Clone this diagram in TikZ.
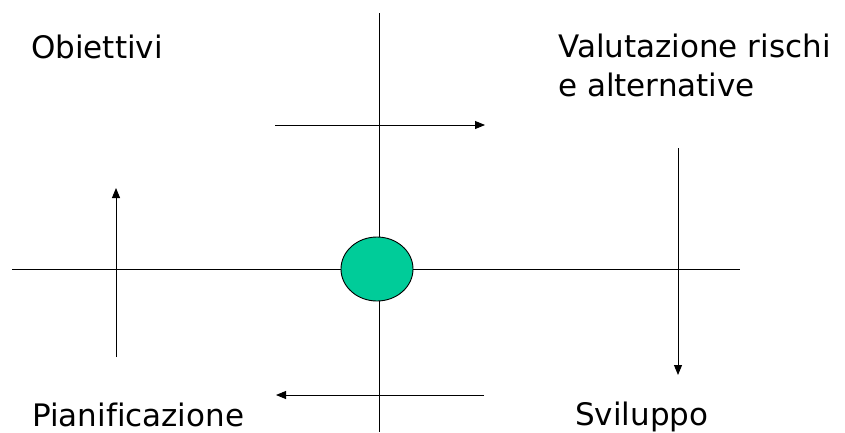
\documentclass[tikz,border=0pt]{standalone}
\usepackage{fontspec}
\setmainfont[Ligatures=NoCommon]{DejaVu Sans}
\usetikzlibrary{arrows.meta,shapes.geometric}
\definecolor{spiralgreen}{RGB}{0,204,153}
\begin{document}
\begin{tikzpicture}[x=1pt,y=-1pt,
  axis/.style={line width=0.9pt,black},
  flow/.style={line width=0.9pt,black,-{Triangle[length=10pt,width=8pt]}},
  label/.style={anchor=base west,inner sep=0pt,font=\fontsize{31}{39}\selectfont,align=left}]
\useasboundingbox (0,0) rectangle (845,432);
% axis end points
\coordinate (vtop) at (379,13);
\coordinate (vbot) at (379,432);
\coordinate (hleft) at (12,269);
\coordinate (hright) at (740,269);
% arrow end points
\coordinate (ta1) at (275,125);
\coordinate (ta2) at (485,125);
\coordinate (ra1) at (678,148);
\coordinate (ra2) at (678,375);
\coordinate (ba1) at (484,395);
\coordinate (ba2) at (276,395);
\coordinate (la1) at (116,357);
\coordinate (la2) at (116,188);
\draw[axis] (vtop) -- (vbot);
\draw[axis] (hleft) -- (hright);
\draw[flow] (ta1) -- (ta2);
\draw[flow] (ra1) -- (ra2);
\draw[flow] (ba1) -- (ba2);
\draw[flow] (la1) -- (la2);
\node[ellipse,draw,line width=0.9pt,fill=spiralgreen,minimum width=72pt,minimum height=64pt,inner sep=0pt] (core) at (377,269) {};
\node[label] (obj) at (31,58) {Obiettivi};
\node[label] (val) at (558,96) {Valutazione rischi\\e alternative};
\node[label] (pia) at (32,426) {Pianificazione};
\node[label] (svi) at (575,425) {Sviluppo};
\end{tikzpicture}
\end{document}
